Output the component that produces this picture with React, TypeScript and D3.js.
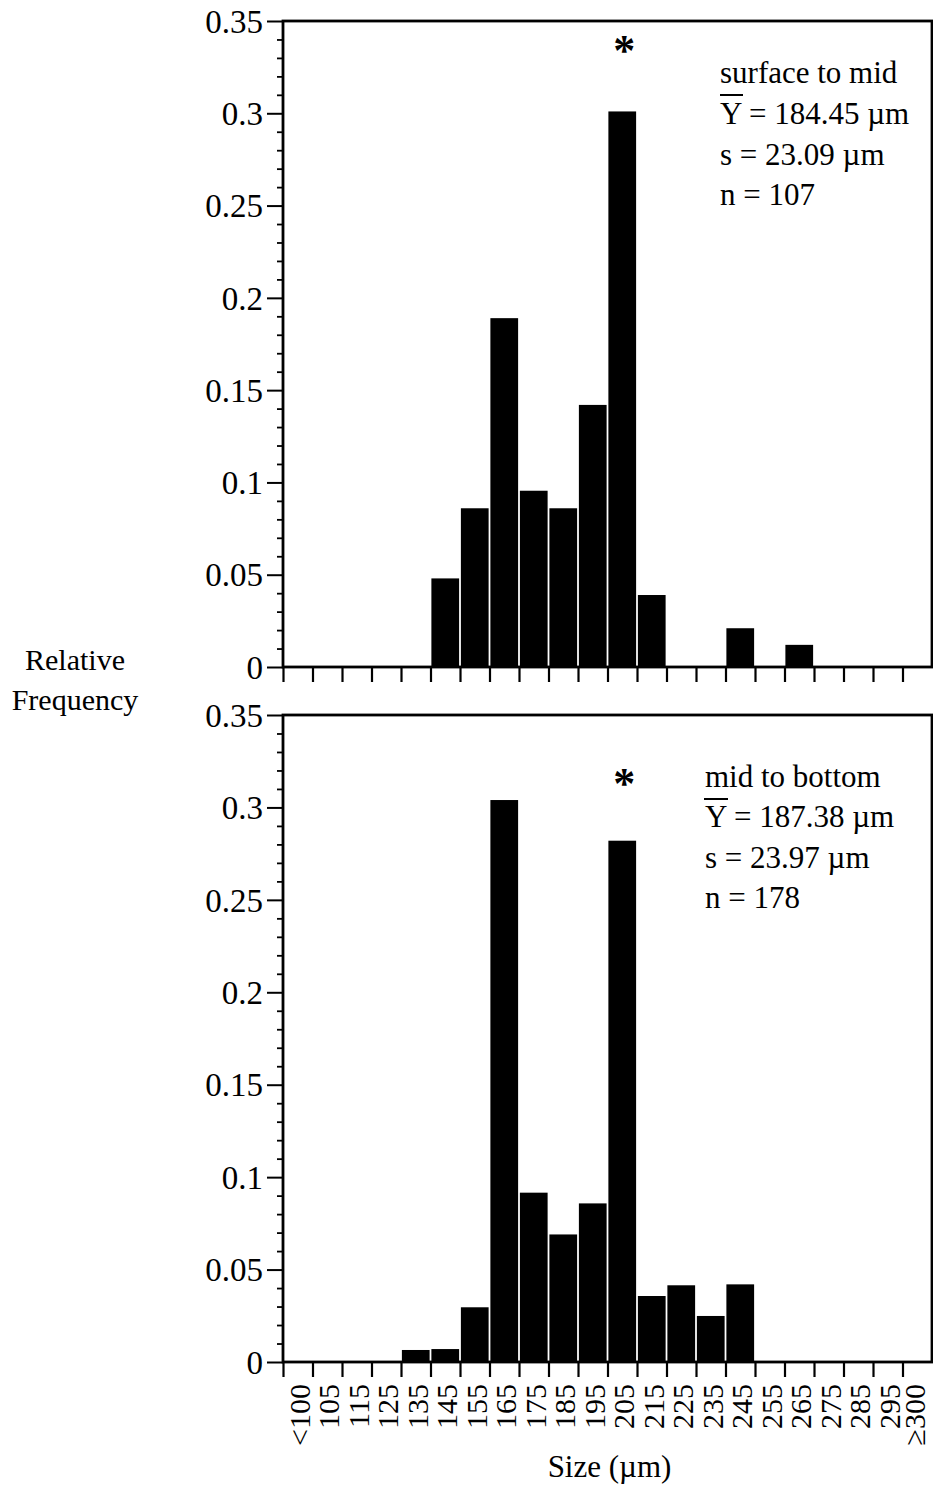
import { useEffect, useRef } from 'react'
import * as d3 from 'd3'

// size classes (µm) along the x axis
const sizeBins = ['<100', '105', '115', '125', '135', '145', '155', '165', '175', '185', '195',
  '205', '215', '225', '235', '245', '255', '265', '275', '285', '295', '≥300']

// relative frequency
const surfaceToMid = [0, 0, 0, 0, 0, 0.048, 0.086, 0.189, 0.0955, 0.086, 0.142, 0.301,
  0.039, 0, 0, 0.021, 0, 0.012, 0, 0, 0, 0]
const midToBottom = [0, 0, 0, 0, 0.0065, 0.007, 0.0296, 0.304, 0.0916, 0.069, 0.0858, 0.282,
  0.0357, 0.0415, 0.0249, 0.042, 0, 0, 0, 0, 0, 0]

const yTicks = [0, 0.05, 0.1, 0.15, 0.2, 0.25, 0.3, 0.35]
const starBin = '205'

const legendTop = ['surface to mid', 'Y = 184.45 µm', 's = 23.09 µm', 'n = 107']
const legendBottom = ['mid to bottom', 'Y = 187.38 µm', 's = 23.97 µm', 'n = 178']

const FONT = '"Liberation Serif", "Times New Roman", Times, serif'

export default function App() {
  const svgRef = useRef<SVGSVGElement | null>(null)

  useEffect(() => {
    if (!svgRef.current) return
    const svg = d3.select(svgRef.current)
    svg.selectAll('*').remove()

    const left = 283
    const right = 932

    const x = d3.scaleBand<string>()
      .domain(sizeBins)
      .range([left, right])
      .paddingInner(0.06)
      .paddingOuter(0.03)

    // bin edges for the tick marks
    const xEdge = d3.scaleLinear().domain([0, sizeBins.length]).range([left, right])

    const panels = [
      { values: surfaceToMid, legend: legendTop, top: 21, bottom: 667, legendX: 720,
        legendY: [83, 124, 165, 205], bar: [720, 743, 95], starY: 45, labels: false },
      { values: midToBottom, legend: legendBottom, top: 715, bottom: 1362, legendX: 705,
        legendY: [787, 827, 868, 908], bar: [704, 728, 799], starY: 778, labels: true },
    ]

    panels.forEach(p => {
      const y = d3.scaleLinear().domain([0, 0.35]).range([p.bottom, p.top])
      const g = svg.append('g')

      g.selectAll('rect.bar')
        .data(p.values)
        .join('rect')
        .attr('class', 'bar')
        .attr('x', (_, i) => x(sizeBins[i]) as number)
        .attr('width', x.bandwidth())
        .attr('y', d => y(d))
        .attr('height', d => y(0) - y(d))
        .attr('fill', '#000')

      // minor ticks every 0.01
      const minor = d3.range(0, 36).map(i => i / 100).filter(v => Math.round(v * 100) % 5 !== 0)
      g.append('g')
        .attr('transform', `translate(${left},0)`)
        .call(d3.axisLeft(y).tickValues(minor).tickSize(6).tickFormat(() => ''))
        .call(a => a.select('.domain').remove())
        .call(a => a.selectAll('line').attr('stroke', '#000').attr('stroke-width', 1.8))

      g.append('g')
        .attr('transform', `translate(${left},0)`)
        .call(d3.axisLeft(y).tickValues(yTicks).tickSize(16).tickPadding(4)
          .tickFormat(d => String(+(+d).toFixed(2))))
        .call(a => a.select('.domain').remove())
        .call(a => a.selectAll('line').attr('stroke', '#000').attr('stroke-width', 2))
        .call(a => a.selectAll('text').attr('fill', '#000').attr('font-family', FONT)
          .attr('font-size', 33).attr('dy', '0.34em'))

      g.append('g')
        .attr('transform', `translate(0,${p.bottom})`)
        .call(d3.axisBottom(xEdge).tickValues(d3.range(0, sizeBins.length)).tickSize(15)
          .tickFormat(() => ''))
        .call(a => a.select('.domain').remove())
        .call(a => a.selectAll('line').attr('stroke', '#000').attr('stroke-width', 2.2))

      // frame
      g.append('rect')
        .attr('x', left)
        .attr('y', p.top)
        .attr('width', right - left)
        .attr('height', p.bottom - p.top)
        .attr('fill', 'none')
        .attr('stroke', '#000')
        .attr('stroke-width', 2.8)

      if (p.labels) {
        g.selectAll('text.xl')
          .data(sizeBins)
          .join('text')
          .attr('class', 'xl')
          .attr('transform', (d, i) => {
            const shift = i === sizeBins.length - 1 ? -2 : 2
            return `translate(${(x(d) as number) + x.bandwidth() / 2 + shift},${p.bottom + 22}) rotate(-90)`
          })
          .attr('text-anchor', 'end')
          .attr('dy', '0.33em')
          .attr('font-family', FONT)
          .attr('font-size', 30)
          .text(d => d)
      }

      // asterisk over the 205 bin
      g.append('text')
        .attr('x', (x(starBin) as number) + x.bandwidth() / 2 + 2)
        .attr('y', p.starY + 20)
        .attr('text-anchor', 'middle')
        .attr('font-family', FONT)
        .attr('font-weight', 'bold')
        .attr('font-size', 44)
        .text('*')

      g.selectAll('text.leg')
        .data(p.legend)
        .join('text')
        .attr('class', 'leg')
        .attr('x', p.legendX)
        .attr('y', (_, i) => p.legendY[i])
        .attr('font-family', FONT)
        .attr('font-size', 31)
        .text(d => d)

      // bar over Y (mean)
      g.append('line')
        .attr('x1', p.bar[0])
        .attr('x2', p.bar[1])
        .attr('y1', p.bar[2])
        .attr('y2', p.bar[2])
        .attr('stroke', '#000')
        .attr('stroke-width', 2)
    })

    svg.append('text')
      .attr('x', 75)
      .attr('y', 670)
      .attr('text-anchor', 'middle')
      .attr('font-family', FONT)
      .attr('font-size', 30)
      .text('Relative')
    svg.append('text')
      .attr('x', 75)
      .attr('y', 710)
      .attr('text-anchor', 'middle')
      .attr('font-family', FONT)
      .attr('font-size', 30)
      .text('Frequency')

    svg.append('text')
      .attr('x', (left + right) / 2 + 2)
      .attr('y', 1477)
      .attr('text-anchor', 'middle')
      .attr('font-family', FONT)
      .attr('font-size', 31)
      .text('Size (µm)')
  }, [])

  return (
    <svg
      ref={svgRef}
      width={933}
      height={1486}
      style={{ position: 'absolute', left: 0, top: 0, background: '#fff' }}
    />
  )
}
